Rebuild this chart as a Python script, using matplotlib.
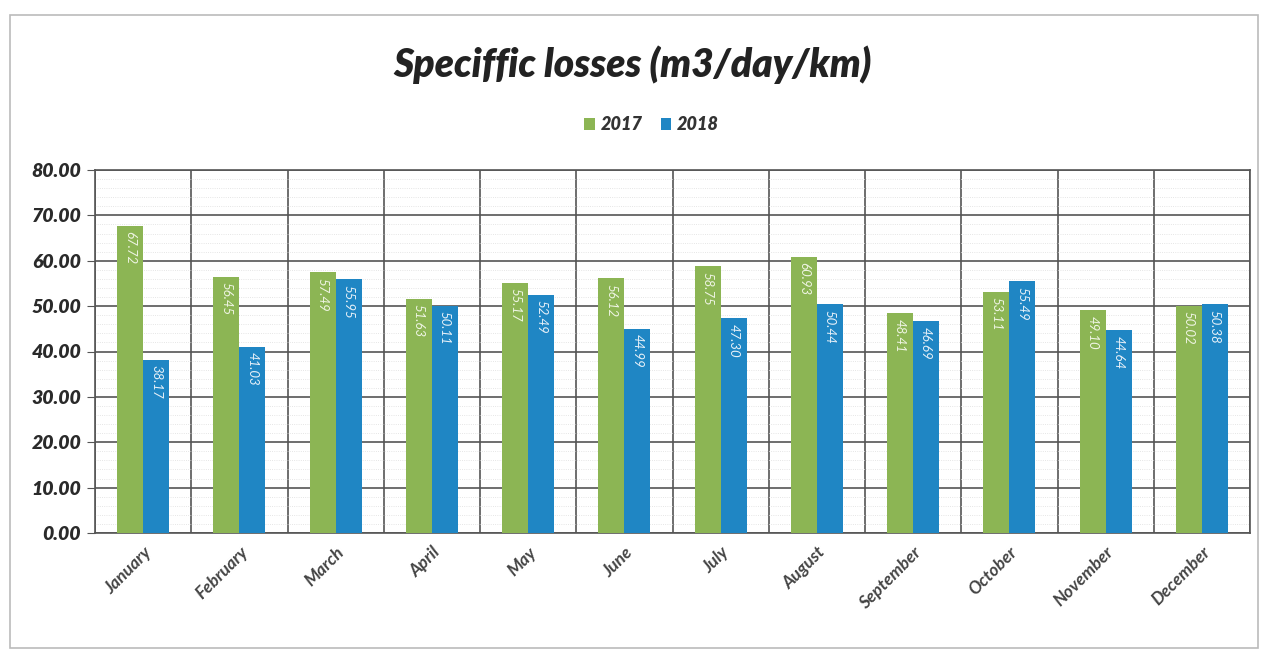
import matplotlib.pyplot as plt
import numpy as np
from matplotlib.patches import Rectangle

months = ['January', 'February', 'March', 'April', 'May', 'June', 'July',
          'August', 'September', 'October', 'November', 'December']
y2017 = [67.72, 56.45, 57.49, 51.63, 55.17, 56.12, 58.75, 60.93, 48.41, 53.11, 49.10, 50.02]
y2018 = [38.17, 41.03, 55.95, 50.11, 52.49, 44.99, 47.30, 50.44, 46.69, 55.49, 44.64, 50.38]

green = '#8cb554'
blue = '#1f86c4'
plt.rcParams['font.family'] = ['Lato', 'DejaVu Sans']

fig = plt.figure(figsize=(12.65, 6.53), dpi=100)
ax = fig.add_axes([95 / 1265, 1 - 533 / 653, (1250 - 95) / 1265, (533 - 170) / 653])

# outer chart frame
fig.patches.append(Rectangle((10 / 1265, 0.008), 1248 / 1265, 1 - 15 / 653 - 0.008,
                             transform=fig.transFigure, fill=False,
                             edgecolor='#bbbbbb', lw=1.2))

x = np.arange(len(months))
w = 0.27
b1 = ax.bar(x - w / 2, y2017, w, color=green, label='2017', zorder=3)
b2 = ax.bar(x + w / 2, y2018, w, color=blue, label='2018', zorder=3)

for bars, vals, col in [(b1, y2017, '#eef4e2'), (b2, y2018, '#e6f0f8')]:
    for rect, v in zip(bars, vals):
        ax.text(rect.get_x() + rect.get_width() / 2, v - 1.2, f'{v:.2f}',
                rotation=-90, ha='center', va='top', fontsize=9.5,
                style='italic', color=col, zorder=4)

ax.set_xlim(-0.5, len(months) - 0.5)
ax.set_ylim(0, 80)
ax.set_yticks(np.arange(0, 81, 10))
ax.set_yticks(np.arange(0, 81, 2), minor=True)
ax.set_yticklabels([f'{t:.2f}' for t in range(0, 81, 10)],
                   fontsize=14, fontweight='heavy', style='italic', color='#2a2a2a')
ax.set_xticks(x)
ax.set_xticklabels(months, rotation=45, ha='right', rotation_mode='anchor',
                   fontsize=12.5, fontweight='bold', style='italic', color='#444444')
ax.set_xticks(np.arange(-0.5, len(months), 1), minor=True)
ax.tick_params(axis='x', which='major', length=0, pad=8)
ax.tick_params(axis='y', which='major', length=6, color='#555555', pad=4)
ax.tick_params(which='minor', length=0)

ax.grid(which='major', axis='y', color='#555555', lw=1.2, zorder=1)
ax.grid(which='minor', axis='y', color='#dddddd', lw=0.6, ls=':', zorder=1)
ax.grid(which='minor', axis='x', color='#555555', lw=1.2, zorder=1)
for s in ax.spines.values():
    s.set_color('#555555')
    s.set_linewidth(1.2)

fig.text(0.5, 1 - 65 / 653, 'Speciffic losses (m3/day/km)', ha='center', va='center',
         fontsize=28, fontweight='heavy', style='italic', color='#222222')
fig.legend(handles=[b1, b2], loc='center', bbox_to_anchor=(0.515, 1 - 125 / 653),
           ncol=2, frameon=False, handlelength=0.6, handleheight=0.6,
           handletextpad=0.3, columnspacing=1.0,
           prop={'weight': 'heavy', 'style': 'italic', 'size': 13})
for t in fig.legends[0].get_texts():
    t.set_color('#333333')

fig.savefig('out.png', dpi=100)
